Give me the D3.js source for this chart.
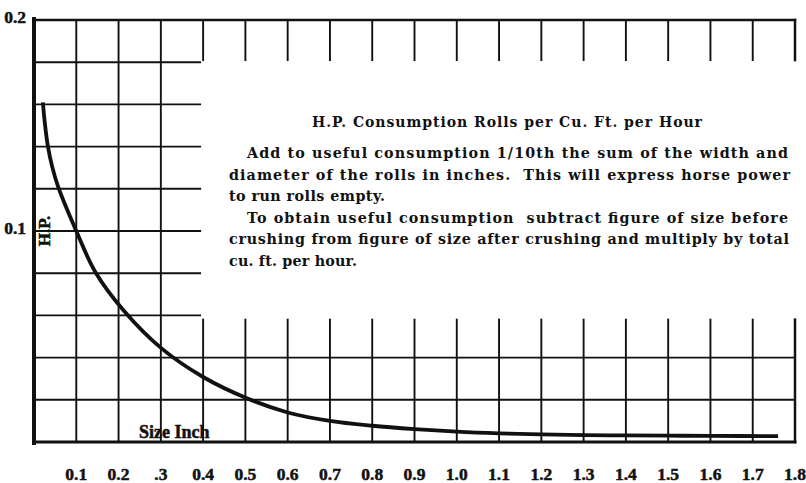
<!DOCTYPE html>
<html>
<head>
<meta charset="utf-8">
<script src="https://cdn.jsdelivr.net/npm/d3@7"></script>
<style>
  html, body { margin: 0; padding: 0; background: #fff; }
  svg { display: block; }
</style>
</head>
<body>
<svg id="chart" width="806" height="483"></svg>
<script>
// Horse power consumption of crushing rolls vs. product size
const sizeInch = [0.021, 0.026, 0.033, 0.043, 0.057, 0.1, 0.145, 0.211, 0.301, 0.4, 0.505, 0.6, 0.7, 0.8, 0.9, 1.0, 1.1, 1.2, 1.3, 1.4, 1.5, 1.6, 1.76];
const hpValues = [0.161, 0.1505, 0.140, 0.1305, 0.121, 0.100, 0.0806, 0.0626, 0.0445, 0.0308, 0.0206, 0.0140, 0.0100, 0.0077, 0.0061, 0.0049, 0.0041, 0.0036, 0.0033, 0.0031, 0.0030, 0.0029, 0.0028];

const xTicks = [0.1, 0.2, 0.3, 0.4, 0.5, 0.6, 0.7, 0.8, 0.9, 1.0, 1.1, 1.2, 1.3, 1.4, 1.5, 1.6, 1.7, 1.8];
const xTickLabels = ["0.1", "0.2", ".3", "0.4", "0.5", "0.6", "0.7", "0.8", "0.9", "1.0", "1.1", "1.2", "1.3", "1.4", "1.5", "1.6", "1.7", "1.8"];
const yTicks = [0.1, 0.2];
const yTickLabels = ["0.1", "0.2"];
const yGrid = [0.02, 0.04, 0.06, 0.08, 0.1, 0.12, 0.14, 0.16, 0.18];

const title = "H.P. Consumption Rolls per Cu. Ft. per Hour";
const noteLines = [
  "Add to useful consumption 1/10th the sum of the width and",
  "diameter of the rolls in inches.  This will express horse power",
  "to run rolls empty.",
  "To obtain useful consumption  subtract figure of size before",
  "crushing from figure of size after crushing and multiply by total",
  "cu. ft. per hour."
];

const svg = d3.select("#chart");
const ink = "#111";

const x = d3.scaleLinear().domain([0, 1.8]).range([34, 795]);
const y = d3.scaleLinear().domain([0, 0.2]).range([442, 20]);

const g = svg.append("g").attr("stroke", ink).attr("fill", "none").attr("stroke-linecap", "square");

// Left block of the grid is fully ruled; the rest leaves room for the notes
const leftEdge = 0.393;   // horizontal rules of the upper rows stop here
const lowTop = 0.058;     // lower verticals start here
const topTick = 0.181;    // hanging ticks from the top rule end here

yGrid.forEach(v => {
  const x2 = v <= 0.04 ? 1.8 : leftEdge;
  g.append("line")
    .attr("x1", x(0)).attr("x2", x(x2))
    .attr("y1", y(v)).attr("y2", y(v))
    .attr("stroke-width", 1.9);
});

xTicks.forEach(v => {
  const w = v === 1.8 ? 2.5 : 1.9;
  if (v < 0.35) {
    g.append("line")
      .attr("x1", x(v)).attr("x2", x(v))
      .attr("y1", y(0)).attr("y2", y(0.2))
      .attr("stroke-width", w);
  } else {
    g.append("line")
      .attr("x1", x(v)).attr("x2", x(v))
      .attr("y1", y(0)).attr("y2", y(lowTop))
      .attr("stroke-width", w);
    g.append("line")
      .attr("x1", x(v)).attr("x2", x(v))
      .attr("y1", y(0.2)).attr("y2", y(topTick))
      .attr("stroke-width", w);
  }
});

// Frame: heavy left and bottom axes, top rule
g.append("line").attr("x1", x(0)).attr("x2", x(1.8)).attr("y1", y(0.2)).attr("y2", y(0.2)).attr("stroke-width", 2.5);
g.append("line").attr("x1", x(0)).attr("x2", x(1.8)).attr("y1", y(0)).attr("y2", y(0)).attr("stroke-width", 3);
g.append("line").attr("x1", x(0)).attr("x2", x(0)).attr("y1", y(0) + 1).attr("y2", y(0.2) - 1).attr("stroke-width", 4);

// Consumption curve
const line = d3.line()
  .x((d, i) => x(sizeInch[i]))
  .y(d => y(d))
  .curve(d3.curveCatmullRom.alpha(0.5));
svg.append("path")
  .attr("d", line(hpValues))
  .attr("fill", "none")
  .attr("stroke", ink)
  .attr("stroke-width", 3.8)
  .attr("stroke-linecap", "butt");

// Tick labels
const tickFont = "'Liberation Serif', 'Times New Roman', serif";
const heavy = sel => sel
  .attr("font-family", tickFont)
  .attr("font-weight", "bold")
  .attr("fill", ink)
  .attr("stroke", ink)
  .attr("stroke-width", 0.5);

svg.append("g").selectAll("text").data(xTicks).join("text")
  .attr("x", d => x(d))
  .attr("y", 480)
  .attr("text-anchor", "middle")
  .attr("font-size", 17.5)
  .call(heavy)
  .text((d, i) => xTickLabels[i]);

svg.append("g").selectAll("text").data(yTicks).join("text")
  .attr("x", 26)
  .attr("y", d => y(d) + 3)
  .attr("text-anchor", "end")
  .attr("font-size", 17.5)
  .call(heavy)
  .text((d, i) => yTickLabels[i]);

// Axis titles
svg.append("text")
  .attr("x", 139).attr("y", 438)
  .attr("font-size", 18)
  .call(heavy)
  .text("Size Inch");

svg.append("text")
  .attr("transform", `translate(50, ${y(0.1)}) rotate(-90)`)
  .attr("text-anchor", "middle")
  .attr("font-size", 17)
  .call(heavy)
  .text("H.P.");

// Notes block
const noteFont = "'DejaVu Serif', serif";
svg.append("text")
  .attr("x", 312).attr("y", 127)
  .attr("font-family", noteFont)
  .attr("font-weight", "bold")
  .attr("font-size", 14)
  .attr("fill", ink)
  .attr("textLength", 390)
  .attr("lengthAdjust", "spacing")
  .text(title);

const lineStarts = [247, 229, 229, 247, 229, 229];
const lineWidths = [541, 561, 156, 541, 560, 128];
const baselines = [158, 180, 201, 223, 244, 266];
svg.append("g").selectAll("text").data(noteLines).join("text")
  .attr("x", (d, i) => lineStarts[i])
  .attr("y", (d, i) => baselines[i])
  .attr("font-family", noteFont)
  .attr("font-weight", "bold")
  .attr("font-size", 14.3)
  .attr("fill", ink)
  .attr("textLength", (d, i) => lineWidths[i])
  .attr("lengthAdjust", "spacing")
  .style("white-space", "pre")
  .text(d => d);
</script>
</body>
</html>
